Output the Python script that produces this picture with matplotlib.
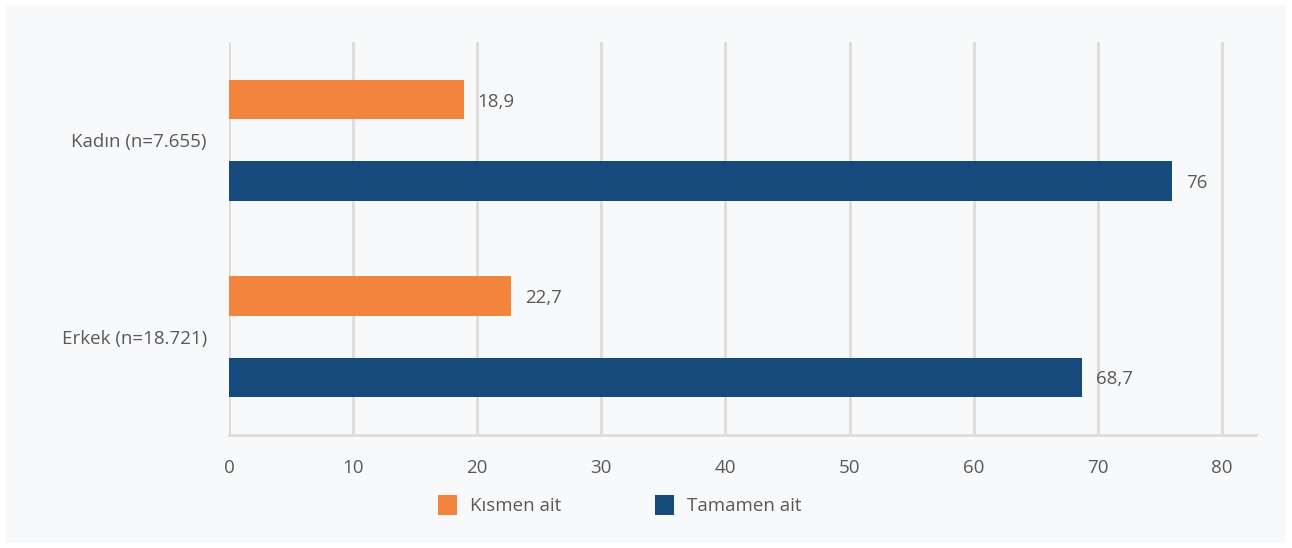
import numpy as np
import matplotlib.pyplot as plt
from matplotlib.patches import Rectangle, Patch

# datos
categorias = ["Kadın (n=7.655)", "Erkek (n=18.721)"]
kismen = [18.9, 22.7]
tamamen = [76, 68.7]
etiq_kismen = ["18,9", "22,7"]
etiq_tamamen = ["76", "68,7"]
series = ["Kısmen ait", "Tamamen ait"]

naranja = "#F3843E"
azul = "#174A7C"
gris_txt = "#595959"
gris_linea = "#DDDCDA"

plt.rcParams["font.family"] = ["Open Sans", "DejaVu Sans"]
fs = 13.5

fig = plt.figure(figsize=(12.92, 5.48), dpi=100)
fig.patch.set_facecolor("white")
fondo = Rectangle((6 / 1292, 5 / 548), 1280 / 1292, 538 / 548,
                  transform=fig.transFigure, facecolor="#F8F9FB",
                  edgecolor="none", zorder=-10)
fig.patches.append(fondo)

ax = fig.add_axes([229 / 1292, 1 - 435 / 548, (1256 - 229) / 1292, (435 - 42) / 548])
ax.set_facecolor("none")

y = np.arange(len(categorias))
alto = 0.202
off = 0.207
b1 = ax.barh(y - off, kismen, height=alto, color=naranja, zorder=3)
b2 = ax.barh(y + off, tamamen, height=alto, color=azul, zorder=3)

for barras, etiq in ((b1, etiq_kismen), (b2, etiq_tamamen)):
    for b, t in zip(barras, etiq):
        ax.annotate(t, (b.get_width(), b.get_y() + b.get_height() / 2),
                    xytext=(14, -2), textcoords="offset pixels",
                    va="center", ha="left", fontsize=fs, color=gris_txt, zorder=4)

ax.set_xlim(0, 82.75)
ax.set_ylim(1.5, -0.5)
ax.set_xticks(np.arange(0, 81, 10))
ax.set_yticks(y)
ax.set_yticklabels(categorias)
ax.tick_params(axis="both", length=0, labelsize=fs, labelcolor=gris_txt)
ax.tick_params(axis="x", pad=17)
ax.tick_params(axis="y", pad=16)
ax.grid(axis="x", color=gris_linea, linewidth=2, zorder=1)
for s in ["top", "right", "left"]:
    ax.spines[s].set_visible(False)
ax.spines["bottom"].set_color(gris_linea)
ax.spines["bottom"].set_linewidth(2)

handles = [Patch(facecolor=naranja), Patch(facecolor=azul)]
fig.legend(handles, series, loc="center", bbox_to_anchor=(620 / 1292, 1 - 505 / 548),
           ncol=2, frameon=False, fontsize=fs, labelcolor=gris_txt,
           handlelength=1.0, handleheight=1.3, columnspacing=5.0, handletextpad=0.7)

fig.savefig("out.png", dpi=100, facecolor=fig.get_facecolor())
